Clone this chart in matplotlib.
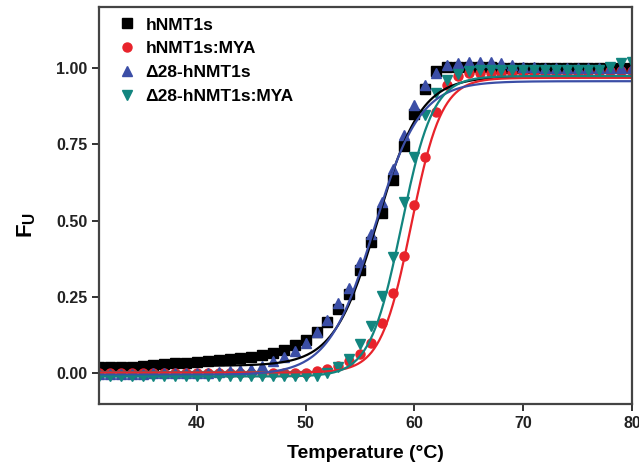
#!/usr/bin/env python3
"""Thermal unfolding curves (fraction unfolded vs temperature) with Boltzmann fits."""
import numpy as np

import matplotlib

matplotlib.use("Agg")
import matplotlib.pyplot as plt

plt.rcParams["font.family"] = ["Liberation Sans", "DejaVu Sans"]
plt.rcParams["font.weight"] = "bold"
plt.rcParams["mathtext.fontset"] = "custom"
plt.rcParams["mathtext.rm"] = "Liberation Sans:bold"
plt.rcParams["mathtext.bf"] = "Liberation Sans:bold"

temps = list(range(31, 81))

hnmt1s = [0.02, 0.02, 0.02, 0.022, 0.024, 0.026, 0.03, 0.033, 0.035, 0.038,
          0.04, 0.043, 0.046, 0.05, 0.055, 0.06, 0.068, 0.078, 0.092, 0.11,
          0.135, 0.17, 0.21, 0.26, 0.34, 0.43, 0.525, 0.635, 0.745, 0.85,
          0.93, 0.99, 1.005, 1.005, 1.005, 1.005, 1.005, 1.0, 1.0, 1.0,
          1.0, 1.0, 1.0, 1.0, 1.0, 1.0, 1.0, 1.0, 1.0, 1.0]
hnmt1s_mya = [0.003] * 20 + [
          0.008, 0.015, 0.025, 0.04, 0.065, 0.1, 0.165, 0.262, 0.385, 0.55,
          0.71, 0.855, 0.945, 0.975, 0.985, 0.985, 0.985, 0.985, 0.985, 0.985,
          0.985, 0.985, 0.985, 0.985, 0.985, 0.988, 0.988, 0.99, 0.99, 0.99]
d28 = [-0.003, -0.003, -0.002, -0.002, -0.001, 0.0, 0.0, 0.0, 0.0, 0.0,
       0.0, 0.005, 0.007, 0.01, 0.015, 0.025, 0.04, 0.055, 0.075, 0.10,
       0.135, 0.175, 0.23, 0.28, 0.365, 0.455, 0.56, 0.67, 0.78, 0.88,
       0.945, 0.985, 1.01, 1.015, 1.02, 1.02, 1.02, 1.015, 1.01, 1.005,
       1.005, 1.0, 1.0, 1.0, 1.0, 1.0, 1.0, 1.0, 1.0, 1.0]
d28_mya = [-0.01] * 21 + [
       0.0, 0.02, 0.048, 0.095, 0.155, 0.255, 0.38, 0.56,
       0.71, 0.845, 0.92, 0.96, 0.98, 0.99, 0.995, 0.995, 0.995, 0.995,
       0.995, 0.995, 0.995, 0.995, 0.995, 0.995, 0.995, 0.995, 1.005, 1.015, 1.02]

labels = ["hNMT1s", "hNMT1s:MYA", "\u039428-hNMT1s", "\u039428-hNMT1s:MYA"]
colors = ["#000000", "#e8232b", "#3b4ea6", "#12857f"]
markers = ["s", "o", "^", "v"]

# Boltzmann fit parameters (bottom, top, Tm, width)
fit_bottom = [0.025, 0.003, -0.005, -0.01]
fit_top = [0.972, 0.968, 0.957, 0.974]
fit_tm = [56.6, 59.7, 56.3, 58.8]
fit_dx = [2.0, 1.4, 2.1, 1.45]


def boltzmann(t, a1, a2, tm, dx):
    return a2 + (a1 - a2) / (1.0 + np.exp((t - tm) / dx))


fig = plt.figure(figsize=(6.39, 4.67), dpi=100)
ax = fig.add_axes([0.155, 0.135, 0.834, 0.85])

series = [hnmt1s, hnmt1s_mya, d28, d28_mya]
for ys, lab, c, m in zip(series, labels, colors, markers):
    ax.plot(temps, ys, ls="none", marker=m, ms=6.5, color=c, mec=c, label=lab)

tt = np.linspace(31, 80, 400)
for i, c in enumerate(colors):
    ax.plot(tt, boltzmann(tt, fit_bottom[i], fit_top[i], fit_tm[i], fit_dx[i]),
            color=c, lw=1.6)

ax.set_xlim(31, 80)
ax.set_ylim(-0.1, 1.2)
ax.set_xticks([40, 50, 60, 70, 80])
ax.set_yticks([0.0, 0.25, 0.5, 0.75, 1.0])
ax.set_yticklabels(["0.00", "0.25", "0.50", "0.75", "1.00"])
ax.tick_params(direction="out", length=5, width=1.3, labelsize=11.5, colors="#222222")
for sp in ax.spines.values():
    sp.set_color("#444444")
    sp.set_linewidth(1.6)

ax.set_xlabel("Temperature (\u00b0C)", fontsize=14, fontweight="bold", labelpad=10)
ax.set_ylabel(r"F$_{\mathrm{U}}$", fontsize=16, fontweight="bold")
ax.yaxis.set_label_coords(-0.115, 0.45)

ax.legend(loc="upper left", frameon=False, fontsize=12.5, handletextpad=0.45,
          labelspacing=0.5, borderaxespad=0.2, bbox_to_anchor=(0.014, 1.0),
          handlelength=1.2)

fig.savefig("out.png", dpi=100)
